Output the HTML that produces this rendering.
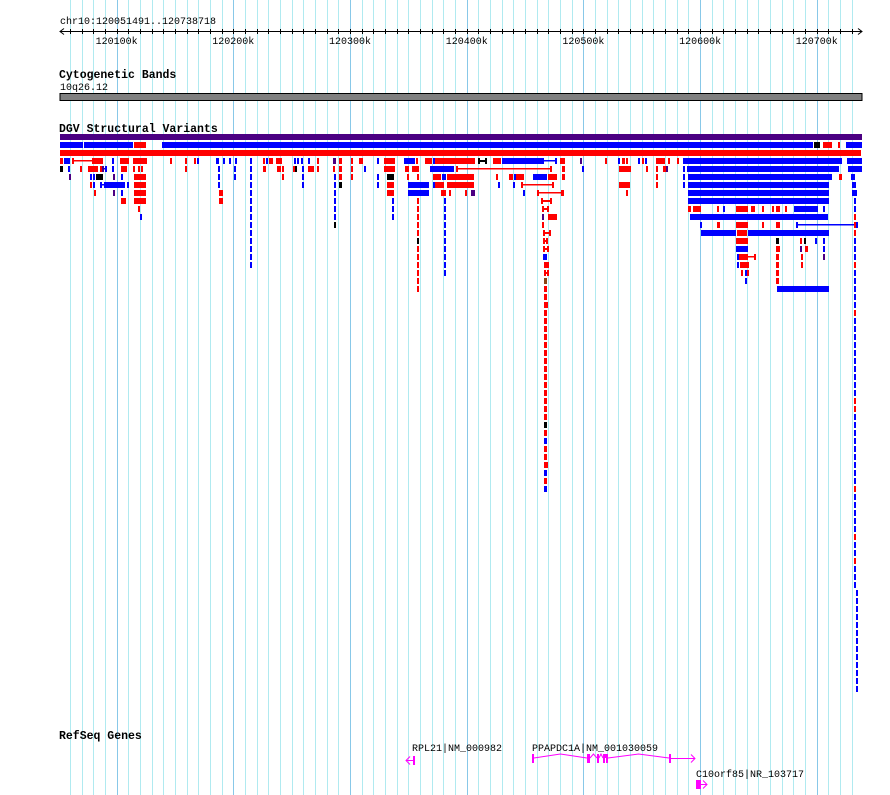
<!DOCTYPE html>
<html><head><meta charset="utf-8"><style>
html,body{margin:0;padding:0;background:#fff;}
#wrap{position:relative;width:890px;height:795px;overflow:hidden;}
svg text{font-family:"Liberation Mono","DejaVu Sans Mono",monospace;}
</style></head><body>
<div id="wrap">
<svg id="gb" width="890" height="795" xmlns="http://www.w3.org/2000/svg">
<g id="grid"></g>
<g id="ruler"></g>
<text x="60" y="24" font-size="10">chr10:120051491..120738718</text>
<text x="59" y="78" font-size="11.5" font-weight="bold">Cytogenetic Bands</text>
<text x="60" y="90" font-size="10">10q26.12</text>
<rect x="60" y="93.5" width="802" height="7" fill="#808080" stroke="#000" stroke-width="1"/>
<text x="59" y="132" font-size="11.5" font-weight="bold">DGV Structural Variants</text>
<g id="dgv"></g>
<text x="59" y="739" font-size="11.5" font-weight="bold">RefSeq Genes</text>
<g id="genes"></g>
</svg>
</div>
<script>
// genomic window in kb offset from 120,000 kb
const regionStartKb = 51.491;
const regionEndKb = 738.718;
const gridStepKb = 10;
const majorLabels = ["120100k","120200k","120300k","120400k","120500k","120600k","120700k"];
const majorKb = [100,200,300,400,500,600,700];
// DGV features: [row, startKb, endKb, color]
const features = [
[0,51.5,738.7,'p'],
[1,51.5,71.1,'b'],[1,72,114,'b'],[1,114.8,125,'r'],[1,138.8,696.7,'b'],[1,697.6,702.7,'k'],[1,705.3,713,'r'],[1,718,720,'r'],[1,725,738.7,'b'],
[2,51.5,738,'r'],
[3,51.4,54,'r'],[3,54.8,60,'b'],[3,61.7,63.4,'r'],[3,79.7,88.3,'r'],[3,96,97.7,'b'],[3,102.8,110.5,'r'],[3,114,124.3,'r'],[3,124.3,126,'r'],[3,145.7,146.5,'r'],[3,158.5,159.4,'r'],[3,166.3,168,'r'],[3,168.8,170.5,'b'],[3,185.1,187.7,'b'],[3,191.1,192,'b'],[3,196.3,197.1,'b'],[3,201.4,202.3,'b'],[3,225.4,226.2,'r'],[3,228,229.7,'b'],[3,230.5,234,'r'],[3,236.5,241.7,'r'],[3,252,252.8,'b'],[3,254.5,256.2,'b'],[3,258,259.7,'b'],[3,264,265.7,'b'],[3,271.7,272.5,'r'],[3,285.4,288,'p'],[3,290.5,293,'r'],[3,300.8,301.7,'r'],[3,307.7,311,'r'],[3,323,324,'b'],[3,329,338.5,'r'],[3,346.2,355.7,'b'],[3,356.5,358.2,'r'],[3,364.2,370.2,'r'],[3,371,372,'b'],[3,372.8,407,'r'],[3,422.5,429.4,'r'],[3,430.2,466.2,'b'],[3,475.6,476.5,'b'],[3,480,484.2,'r'],[3,497,498.8,'p'],[3,518.5,520.2,'r'],[3,529.6,531.3,'b'],[3,533,535.6,'r'],[3,536.5,538.2,'r'],[3,546.8,548.5,'b'],[3,550.2,552,'r'],[3,552.8,554.5,'b'],[3,562.2,570,'r'],[3,572.5,574.2,'r'],[3,580.2,582,'r'],[3,585.3,721.6,'b'],[3,725.9,738.7,'b'],
[4,51.4,54,'k'],[4,58.3,60,'b'],[4,68.6,70.3,'r'],[4,75.4,84,'r'],[4,85.7,87.4,'r'],[4,87.4,89,'p'],[4,96,97.7,'b'],[4,103.7,108.8,'r'],[4,114,115.7,'r'],[4,118.3,120,'r'],[4,120.8,122.5,'r'],[4,158.5,160.3,'r'],[4,186.8,188.5,'b'],[4,200.5,202.3,'b'],[4,225.4,228,'r'],[4,237.4,240.8,'r'],[4,241.7,243.4,'r'],[4,251.1,252.8,'r'],[4,252.8,254.5,'k'],[4,258.8,260.5,'b'],[4,264,269,'r'],[4,271.7,273.4,'r'],[4,285.4,287,'r'],[4,290.5,293,'r'],[4,300.8,302.5,'r'],[4,312,313.7,'b'],[4,329,338.5,'r'],[4,347,350.5,'r'],[4,353,359,'r'],[4,368.5,389,'b'],[4,390.8,392.5,'r'],[4,471.4,473,'r'],[4,481.6,484.2,'r'],[4,498.8,500.5,'b'],[4,530.5,540.8,'r'],[4,553.6,555.4,'r'],[4,562.2,564,'r'],[4,568.2,570.8,'r'],[4,570.8,572.5,'p'],[4,585.3,587,'b'],[4,588.8,719,'b'],[4,726.7,738.7,'b'],
[5,59.1,60.8,'p'],[5,77.1,78.8,'b'],[5,79.7,80.6,'b'],[5,82.3,88.3,'k'],[5,96.8,98.6,'p'],[5,103.7,104.6,'b'],[5,114.8,125.1,'r'],[5,186.8,188.5,'b'],[5,200.5,202.3,'b'],[5,241.7,243.4,'r'],[5,258.8,260.5,'b'],[5,290.5,293,'r'],[5,300.8,302.5,'r'],[5,323,324.8,'b'],[5,331.7,337.7,'k'],[5,348.8,350.5,'r'],[5,357.3,359,'r'],[5,371,378,'r'],[5,378.8,382.2,'b'],[5,383,406.2,'r'],[5,425,426.8,'r'],[5,436.2,439.6,'r'],[5,440.5,442.2,'b'],[5,442.2,449,'r'],[5,456.8,468.8,'b'],[5,469.6,477.3,'r'],[5,481.6,484.2,'r'],[5,562.2,564,'r'],[5,585.3,587,'b'],[5,589.6,713,'b'],[5,719,721.6,'r'],[5,729.3,732.7,'b'],
[6,77.1,78.8,'r'],[6,79.7,80.6,'b'],[6,85.7,87.4,'b'],[6,90,107,'b'],[6,108.8,109.6,'b'],[6,114.8,125.1,'r'],[6,186.8,188.5,'b'],[6,258.8,260.5,'b'],[6,290.5,293,'k'],[6,323,324.8,'b'],[6,331.7,337.7,'r'],[6,349.6,367.6,'b'],[6,371,372.8,'b'],[6,372.8,380.5,'r'],[6,383,406.2,'r'],[6,426.8,428.5,'b'],[6,439.6,441.3,'b'],[6,446.5,448.2,'r'],[6,473,474.7,'r'],[6,530.5,540,'r'],[6,562.2,564,'r'],[6,585.3,587,'b'],[6,589.6,710.5,'b'],[6,730,733.6,'b'],
[7,80.6,82.3,'r'],[7,96.8,98.6,'p'],[7,103.7,104.6,'b'],[7,114.8,125.1,'r'],[7,187.7,191.1,'r'],[7,331.7,337.7,'r'],[7,349.6,367.6,'b'],[7,378,382.2,'r'],[7,384.8,386.5,'r'],[7,398.5,400.2,'r'],[7,403.6,407,'p'],[7,448.2,450,'b'],[7,460.2,461.9,'r'],[7,481,482.5,'r'],[7,536.5,538.2,'r'],[7,589.6,710.5,'b'],[7,730.2,731.9,'b'],[7,732.7,734.5,'b'],
[8,103.7,108,'r'],[8,114.8,125.1,'r'],[8,187.7,191.1,'r'],[8,589.6,710.5,'b'],
[9,118.3,120,'r'],[9,589.6,592.2,'r'],[9,594,600.7,'r'],[9,614.5,616.2,'r'],[9,619.6,621.3,'b'],[9,630.8,641,'r'],[9,643.6,647,'r'],[9,653,654.7,'r'],[9,661.6,663.3,'r'],[9,665,668.5,'r'],[9,672.7,674.5,'r'],[9,680.5,701,'b'],[9,705.3,707,'b'],
[10,120,121.7,'b'],[10,464.5,466.2,'p'],[10,469.6,477.3,'r'],[10,591.3,709.6,'b'],
[11,464.5,466.2,'r'],[11,600,601.6,'b'],[11,614.5,617,'r'],[11,630.8,641,'r'],[11,653,654.7,'r'],[11,665,668.5,'r'],[11,682,683.2,'b'],[11,733.2,734.5,'b'],
[12,600.7,630.8,'b'],[12,631.6,640.2,'r'],[12,641,710.5,'b'],
[13,630.8,641,'r'],[13,665,667.6,'k'],[13,685.6,687.3,'r'],[13,689,690.7,'k'],[13,698.5,700.2,'b'],[13,705.3,707,'b'],
[14,630.8,641,'b'],[14,665,668.5,'r'],[14,685.6,687.3,'p'],[14,690,692.5,'r'],[14,705.3,707,'b'],
[15,465.3,468.8,'b'],[15,631.6,633.3,'b'],[15,633.3,641,'r'],[15,646.2,647,'r'],[15,665,667.6,'r'],[15,686.5,688.2,'r'],[15,705.3,707,'p'],
[16,466.2,470.5,'r'],[16,631.6,633.3,'b'],[16,634,641.9,'r'],[16,665,667.6,'r'],[16,686.5,688.2,'r'],
[17,635,636.7,'r'],[17,638.5,640.2,'b'],[17,640.2,641.9,'r'],[17,665,667.6,'r'],
[18,638.5,640.2,'b'],[18,665,667.6,'r'],
[19,665.9,710.5,'b']
];
// thin connector lines: [row, startKb, endKb, color]
const links = [
[3,63.4,79.7,'r'],[3,466.2,476.5,'b'],[4,392.5,472.2,'r'],[4,89,91,'b'],[6,87.4,90,'b'],[6,448.2,474,'r'],[7,461.9,482.5,'r'],[11,683.2,733.2,'b'],[15,641,647,'r']
];
// H-shaped features: [row, startKb, endKb, color]
const hFeatures = [
[3,409.6,417.4,'k'],[8,463.6,473,'r'],[9,464.5,470.3,'r'],[12,465.3,472,'r'],[13,465.3,469.6,'r'],[14,465.3,470.3,'r'],[17,466.2,470.5,'r'],[21,466.2,469.6,'r'],[41,466.2,469.6,'r']
];
// stacked columns: [startKb, endKb, firstRow, lastRow, color]
const stacks = [
[214.3,216,3,16,'b'],[286.2,288,5,11,'b'],[336,337.7,8,10,'b'],[357.3,359,8,19,'r'],[380.5,382.2,8,17,'b'],[466.2,469,18,44,'r'],[731.9,733.6,6,56,'b'],[733.6,735.0,57,69,'b']
];
// per-row color overrides within stacks: [stackIndex, row, color]
const stackColors = [
[1,11,'k'],[3,13,'k'],[5,18,'n'],[5,36,'k'],[5,38,'b'],[5,42,'b'],[5,44,'b'],
[6,10,'r'],[6,11,'r'],[6,12,'r'],[6,16,'r'],[6,22,'r'],[6,33,'r'],[6,34,'r'],[6,44,'r'],[6,50,'r'],[6,53,'r']
];
// RefSeq genes
const geneNames = ["RPL21|NM_000982","PPAPDC1A|NM_001030059","C10orf85|NR_103717"];
const geneStarts = [348, 455.9, 596.5];
const geneEnds = [354.8, 595.6, 605.9];
const geneStrands = [-1, 1, 1];
const geneLanes = [0, 0, 1];
const geneExons = [
 [[354.0,355.2]],
 [[455.9,457.6],[503,505.6],[511.6,513.3],[516.8,518.5],[519.3,521],[573.3,575]],
 [[596.5,600.7]]
];

const NS = "http://www.w3.org/2000/svg";
const colorMap = {r:'#ff0000', b:'#0000ff', k:'#000000', p:'#4b0082', n:'#8b4513'};
function xScale(kb){ return 60 + (kb - regionStartKb) * 802 / (regionEndKb - regionStartKb); }
function rowY(r){ return 134 + 8*r; }
function mk(tag, attrs, parent){ const e=document.createElementNS(NS,tag); for(const k in attrs) e.setAttribute(k, attrs[k]); parent.appendChild(e); return e; }

// grid
const grid = document.getElementById('grid');
for(let kb=Math.ceil(regionStartKb/gridStepKb)*gridStepKb; kb<=regionEndKb; kb+=gridStepKb){
  const x = Math.round(xScale(kb))+0.5;
  const major = kb % 100 === 0;
  const l = mk('line',{x1:x,x2:x,y1:0,y2:795,stroke: major?'#88c8e8':'#b0eaf0','stroke-width':1},grid);
  
  
}
// ruler
const ruler = document.getElementById('ruler');
const x0 = xScale(regionStartKb), x1 = xScale(regionEndKb);
const rl = mk('line',{x1:x0,x2:x1,y1:31.5,y2:31.5,stroke:'#000','stroke-width':1},ruler);


const ra = mk('path',{d:`M${x0+4},28.5 L${x0},31.5 L${x0+4},34.5 M${x1-4},28.5 L${x1},31.5 L${x1-4},34.5`,stroke:'#000',fill:'none','stroke-width':1},ruler);


for(let kb=Math.ceil(regionStartKb/gridStepKb)*gridStepKb; kb<=regionEndKb; kb+=gridStepKb){
  const x = Math.round(xScale(kb))+0.5;
  const t = mk('line',{x1:x,x2:x,y1:29,y2:34,stroke:'#000','stroke-width':1},ruler);
  
  
}
majorKb.forEach((kb,i)=>{
  const t = mk('text',{x:xScale(kb),y:44,'font-size':10,'text-anchor':'middle'},ruler);
  t.textContent = majorLabels[i];
  
  
});

// DGV
const dgv = document.getElementById('dgv');
function bar(r,s,e,c){
  const xs = Math.round(xScale(s)), xe = Math.max(Math.round(xScale(e)), xs+2);
  return mk('rect',{x:xs,y:rowY(r),width:xe-xs,height:6,fill:colorMap[c]},dgv);
}
features.forEach(f=>{
  const el = bar(f[0],f[1],f[2],f[3]);
  
  
});
links.forEach(f=>{
  const xs = Math.round(xScale(f[1])), xe = Math.round(xScale(f[2]));
  const el = mk('rect',{x:xs,y:rowY(f[0])+2,width:xe-xs,height:1.5,fill:colorMap[f[3]]},dgv);
  
  
  const tk = mk('rect',{x:xe-1,y:rowY(f[0]),width:2,height:6,fill:colorMap[f[3]]},dgv);
  
  
});
hFeatures.forEach(f=>{
  const xs = Math.round(xScale(f[1])), xe = Math.round(xScale(f[2]));
  const g = mk('g',{},dgv);
  
  
  mk('rect',{x:xs,y:rowY(f[0]),width:2,height:6,fill:colorMap[f[3]]},g);
  mk('rect',{x:xe-2,y:rowY(f[0]),width:2,height:6,fill:colorMap[f[3]]},g);
  mk('rect',{x:xs,y:rowY(f[0])+2,width:xe-xs,height:2,fill:colorMap[f[3]]},g);
});
stacks.forEach((s,i)=>{
  for(let r=s[2]; r<=s[3]; r++){
    let c = s[4];
    stackColors.forEach(o=>{ if(o[0]===i && o[1]===r) c=o[2]; });
    const el = bar(r,s[0],s[1],c);
    
    
  }
});

// genes
const genes = document.getElementById('genes');
const mag = '#ff00ff';
geneNames.forEach((name,i)=>{
  const g = mk('g',{},genes);
  
  
  const laneY = geneLanes[i]===0 ? 758 : 784;
  const xs = xScale(geneStarts[i]), xe = xScale(geneEnds[i]);
  const lab = mk('text',{x:Math.round(xs)+(i===0?6:0),y:laneY-7,'font-size':10},g);
  lab.textContent = name;
  const ex = geneExons[i];
  if(ex.length>1){
    for(let k=0;k<ex.length-1;k++){
      const a = xScale(ex[k][1]), b = xScale(ex[k+1][0]), m=(a+b)/2;
      mk('polyline',{points:`${a},${laneY} ${m},${laneY-4} ${b},${laneY}`,fill:'none',stroke:mag,'stroke-width':1},g);
    }
  }
  if(geneStrands[i]>0){
    const a = xScale(ex[ex.length-1][1]);
    mk('line',{x1:a,x2:xe,y1:laneY+0.5,y2:laneY+0.5,stroke:mag,'stroke-width':1},g);
    mk('polyline',{points:`${xe-4},${laneY-3.5} ${xe},${laneY+0.5} ${xe-4},${laneY+4.5}`,fill:'none',stroke:mag,'stroke-width':1},g);
  } else {
    const a = xScale(ex[0][0]);
    mk('line',{x1:xs,x2:a,y1:laneY+2.5,y2:laneY+2.5,stroke:mag,'stroke-width':1},g);
    mk('polyline',{points:`${xs+4},${laneY-1.5} ${xs},${laneY+2.5} ${xs+4},${laneY+6.5}`,fill:'none',stroke:mag,'stroke-width':1},g);
  }
  ex.forEach(e=>{
    const a = Math.round(xScale(e[0])), b = Math.max(Math.round(xScale(e[1])), a+2);
    mk('rect',{x:a,y:geneStrands[i]>0?laneY-4:laneY-2,width:b-a,height:9,fill:mag},g);
  });
});
</script>
</body></html>
